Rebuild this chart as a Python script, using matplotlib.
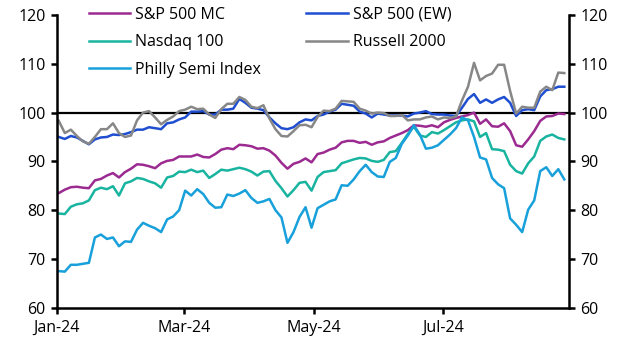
import matplotlib
matplotlib.use("Agg")
import matplotlib.pyplot as plt
import matplotlib.dates as mdates
import pandas as pd

plt.rcParams['font.family'] = ['Open Sans', 'DejaVu Sans']

start_date = "2024-01-02"
end_date = "2024-08-27"

sp500_mc = [83.5, 84.2, 84.7, 84.8, 84.6, 84.5, 86.1, 86.4, 87.1, 87.6, 86.7, 87.8, 88.5, 89.4, 89.3,
            89.0, 88.6, 89.6, 90.1, 90.3, 91.0, 91.0, 91.0, 91.4, 90.9, 90.8, 91.5, 92.4, 92.7, 92.5,
            93.4, 93.3, 93.1, 92.6, 92.7, 92.2, 91.2, 89.7, 88.5, 89.5, 89.9, 90.6, 89.8, 91.5, 91.8,
            92.4, 92.8, 93.9, 94.2, 94.2, 93.8, 94.0, 93.4, 93.9, 94.1, 94.8, 95.3, 95.8, 96.4, 97.4,
            97.3, 97.1, 97.4, 97.0, 98.0, 98.5, 98.9, 99.2, 99.5, 100.0, 97.7, 98.6, 97.2, 97.1, 97.8,
            96.2, 93.3, 93.0, 94.5, 96.2, 98.3, 99.2, 99.3, 99.8, 99.7]

sp500_ew = [95.0, 94.6, 95.2, 94.9, 94.2, 93.5, 94.5, 94.9, 95.0, 95.5, 95.4, 95.6, 96.0, 96.5, 96.5,
            97.0, 96.8, 96.6, 97.8, 98.0, 98.6, 99.0, 100.2, 100.2, 100.3, 99.6, 99.6, 100.6, 100.6, 100.8,
            102.8, 102.0, 101.0, 100.8, 100.5, 99.0, 97.8, 96.8, 96.6, 97.0, 98.0, 98.6, 98.4, 99.3, 99.6,
            100.2, 100.6, 101.8, 101.6, 101.4, 100.2, 99.8, 99.0, 99.8, 99.6, 99.4, 99.4, 99.4, 99.2, 99.8,
            100.0, 100.3, 99.7, 99.6, 99.6, 99.4, 99.3, 101.0, 102.8, 103.8, 102.0, 102.7, 102.0, 102.7, 103.2,
            102.0, 99.3, 100.5, 100.7, 100.5, 103.3, 104.6, 104.8, 105.3, 105.3]

nasdaq_100 = [79.3, 79.2, 80.7, 81.2, 81.4, 82.0, 84.1, 84.6, 84.3, 84.9, 83.0, 85.5, 85.9, 86.6, 86.4,
              85.9, 85.5, 84.6, 86.7, 87.0, 87.9, 87.8, 88.3, 87.8, 88.1, 86.6, 87.4, 88.3, 88.1, 88.4,
              88.7, 88.4, 87.9, 87.1, 87.9, 88.0, 86.0, 84.5, 82.8, 84.1, 85.6, 85.8, 84.0, 86.8, 87.8,
              88.0, 88.2, 89.6, 90.0, 90.4, 90.7, 90.6, 90.1, 89.9, 90.3, 91.9, 92.1, 93.8, 95.6, 97.1,
              95.3, 95.0, 96.0, 95.7, 96.4, 97.2, 98.0, 98.4, 98.6, 98.2, 95.0, 95.8, 92.5, 92.4, 92.1,
              89.3, 88.0, 87.5, 89.6, 91.0, 94.2, 95.1, 95.5, 94.8, 94.5]

russell_2000 = [98.3, 95.8, 96.5, 95.2, 94.1, 93.6, 95.0, 96.6, 96.6, 97.8, 95.8, 95.0, 95.3, 98.4, 100.0,
                100.3, 99.0, 97.6, 98.5, 99.2, 100.3, 100.6, 101.2, 100.7, 100.8, 99.6, 98.9, 100.7, 101.8, 101.8,
                103.2, 102.6, 101.2, 100.9, 101.5, 98.8, 96.6, 95.2, 95.1, 96.2, 97.4, 97.5, 97.0, 99.1, 100.4,
                100.3, 100.8, 102.4, 102.3, 102.2, 100.8, 100.4, 99.8, 100.0, 99.9, 99.3, 99.3, 99.5, 98.4, 98.6,
                98.6, 99.0, 99.2, 98.6, 99.0, 98.9, 99.2, 102.5, 105.3, 110.2, 106.6, 107.5, 108.0, 109.8, 109.8,
                104.4, 99.8, 101.2, 101.0, 101.0, 104.3, 105.3, 104.6, 108.2, 108.1]

philly_semi = [67.5, 67.4, 68.8, 68.8, 69.0, 69.2, 74.4, 75.0, 74.1, 74.4, 72.6, 73.6, 73.5, 76.0, 77.4,
               76.8, 76.3, 75.5, 78.1, 78.7, 80.0, 84.0, 83.0, 84.3, 83.3, 81.5, 80.5, 80.6, 83.2, 82.9,
               83.4, 84.1, 82.5, 81.5, 81.8, 82.3, 80.0, 78.5, 73.3, 75.5, 78.6, 80.6, 76.4, 80.4, 81.1,
               81.8, 82.2, 85.1, 85.0, 86.3, 88.0, 89.3, 87.8, 86.9, 86.8, 89.9, 90.7, 93.6, 95.3, 97.4,
               95.5, 92.6, 92.8, 93.3, 94.4, 95.5, 96.8, 99.0, 98.4, 95.0, 90.8, 90.4, 86.6, 85.3, 84.5,
               78.3, 77.0, 75.5, 80.1, 82.0, 88.0, 88.8, 87.0, 88.4, 86.3]

series_names = ["S&P 500 MC", "S&P 500 (EW)", "Nasdaq 100", "Russell 2000", "Philly Semi Index"]
series_colors = ["#9B2A91", "#1F4FD0", "#19B4A0", "#878787", "#18A0DA"]

dates = pd.date_range(start_date, end_date, periods=len(sp500_mc))

fig = plt.figure(figsize=(6.29, 3.55), dpi=100)
ax = fig.add_axes([0.0901, 0.1332, 0.8145, 0.8245])

ax.axhline(100, color="black", lw=1.6, zorder=1)

lines = {}
for name, vals, col in zip(series_names,
                           [sp500_mc, sp500_ew, nasdaq_100, russell_2000, philly_semi],
                           series_colors):
    lines[name], = ax.plot(dates, vals, color=col, lw=1.8, label=name, zorder=2)

ax.set_ylim(60, 120)
ax.set_yticks(range(60, 121, 10))
ax.set_xlim(pd.Timestamp("2024-01-01"), pd.Timestamp("2024-08-29 05:00"))
ax.set_xticks(pd.to_datetime(["2024-01-01", "2024-03-01", "2024-05-01", "2024-07-01"]))
ax.xaxis.set_major_formatter(mdates.DateFormatter("%b-%y"))

for s in ["left", "right", "bottom"]:
    ax.spines[s].set_linewidth(1.8)
    ax.spines[s].set_color("black")
ax.spines["top"].set_visible(False)

ax.tick_params(axis="y", which="both", direction="out", length=4, width=1.8,
               labelsize=11.5, left=True, right=True, labelleft=True, labelright=True, pad=4)
ax.tick_params(axis="x", direction="out", length=4, width=1.8, labelsize=11.5, pad=5)

order = ["S&P 500 MC", "Nasdaq 100", "Philly Semi Index", "S&P 500 (EW)", "Russell 2000"]
leg = ax.legend([lines[n] for n in order], order, ncol=2, loc="upper left",
                bbox_to_anchor=(0.05, 1.05), frameon=False, fontsize=11.5,
                handlelength=2.6, handletextpad=0.3, labelspacing=0.72, columnspacing=2.85,
                borderaxespad=0)

fig.savefig("out.png", dpi=100)
